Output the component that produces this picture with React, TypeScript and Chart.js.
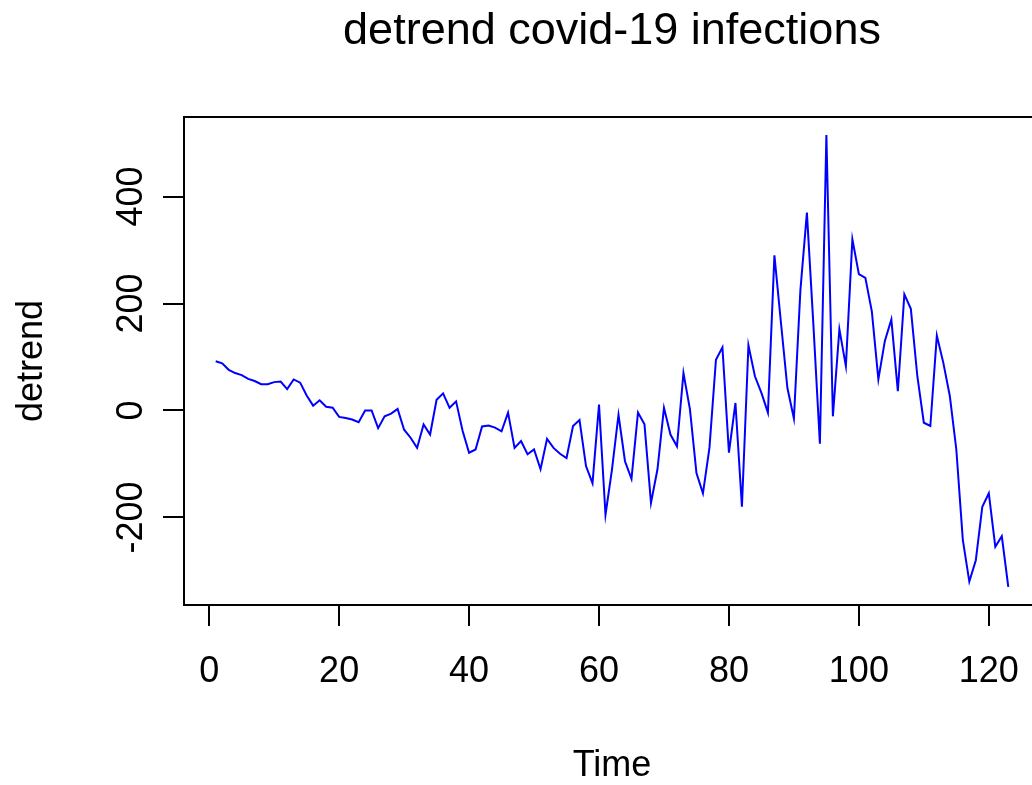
import React, { useEffect, useRef } from "react";
import { Chart, registerables } from "chart.js";

Chart.register(...registerables);

const chartTitle = "detrend covid-19 infections";
const xAxisTitle = "Time";
const yAxisTitle = "detrend";

const timeStart = 1;
const detrendValues = [
  92, 88, 76, 70, 66, 59, 55, 49, 49, 53,
  54, 40, 58, 52, 28, 9, 19, 7, 5, -12,
  -14, -17, -22, 0, 0, -33, -11, -6, 3, -36,
  -51, -70, -26, -45, 20, 32, 5, 17, -38, -79,
  -73, -30, -28, -32, -39, -4, -70, -57, -82, -73,
  -110, -53, -70, -81, -89, -29, -18, -104, -136, 11,
  -195, -110, -8, -95, -128, -4, -26, -173, -110, 5,
  -45, -67, 70, 2, -117, -155, -70, 95, 118, -79,
  14, -180, 122, 64, 33, -4, 290, 165, 42, -15,
  225, 370, 160, -62, 515, -11, 152, 83, 320, 255,
  248, 185, 58, 130, 170, 36, 217, 190, 64, -23,
  -29, 140, 89, 27, -73, -242, -320, -280, -180, -155,
  -255, -235, -330,
];

const xTickValues = [0, 20, 40, 60, 80, 100, 120];
const yTickValues = [-200, 0, 200, 400];

const FONT = "'Liberation Sans', Arial, sans-serif";

const boxPlugin = {
  id: "rbox",
  afterDatasetsDraw(chart: any) {
    const { ctx, chartArea: a } = chart;
    ctx.save();
    ctx.strokeStyle = "#000";
    ctx.lineWidth = 2;
    ctx.strokeRect(a.left, a.top, a.right - a.left, a.bottom - a.top);
    ctx.restore();
  },
};

export default function App() {
  const ref = useRef<HTMLCanvasElement>(null);

  useEffect(() => {
    document.body.style.margin = "0";
    document.body.style.overflow = "hidden";
    Chart.defaults.font.family = FONT;
    Chart.defaults.color = "#000";

    const points = detrendValues.map((v, i) => ({ x: timeStart + i, y: v }));
    const xs = points.map((p) => p.x);
    const xLo = Math.min(...xs);
    const xHi = Math.max(...xs);
    const yLo = Math.min(...detrendValues);
    const yHi = Math.max(...detrendValues);
    const xPad = 0.04 * (xHi - xLo);
    const yPad = 0.04 * (yHi - yLo);

    const gridOpts = {
      display: true,
      drawOnChartArea: false,
      drawTicks: true,
      tickLength: 21,
      color: "#000",
      lineWidth: 2,
    };

    const chart = new Chart(ref.current as HTMLCanvasElement, {
      type: "line",
      data: {
        datasets: [
          {
            data: points,
            borderColor: "#0000FF",
            borderWidth: 2,
            pointRadius: 0,
            tension: 0,
            fill: false,
          },
        ],
      },
      options: {
        responsive: false,
        animation: false,
        parsing: false as any,
        layout: { padding: { left: 0, top: 0, right: 20, bottom: 0 } },
        plugins: {
          legend: { display: false },
          tooltip: { enabled: false },
          title: {
            display: true,
            text: chartTitle,
            fullSize: false,
            color: "#000",
            font: { family: FONT, size: 45, weight: "normal", lineHeight: 1 },
            padding: { top: 9, bottom: 63 },
          },
        },
        scales: {
          x: {
            type: "linear",
            min: xLo - xPad,
            max: xHi + xPad,
            afterBuildTicks: (s: any) => {
              s.ticks = xTickValues.map((v) => ({ value: v }));
            },
            afterFit: (s: any) => {
              s.height = 180;
            },
            grid: gridOpts,
            border: { display: false },
            ticks: {
              color: "#000",
              font: { family: FONT, size: 36, lineHeight: 1.2 },
              padding: 24,
              maxRotation: 0,
              autoSkip: false,
              callback: (v: any) => String(v),
            },
            title: {
              display: true,
              text: xAxisTitle,
              color: "#000",
              font: { family: FONT, size: 36, lineHeight: 1.2 },
              padding: { top: 0, bottom: -3 },
            },
          },
          y: {
            type: "linear",
            min: yLo - yPad,
            max: yHi + yPad,
            afterBuildTicks: (s: any) => {
              s.ticks = yTickValues.map((v) => ({ value: v }));
            },
            afterFit: (s: any) => {
              s.width = 184;
            },
            grid: gridOpts,
            border: { display: false },
            ticks: {
              color: "#000",
              font: { family: FONT, size: 36, lineHeight: 1.2 },
              padding: -5,
              minRotation: 90,
              maxRotation: 90,
              crossAlign: "center",
              autoSkip: false,
              callback: (v: any) => String(v),
            },
            title: {
              display: true,
              text: yAxisTitle,
              color: "#000",
              font: { family: FONT, size: 36, lineHeight: 1.2 },
              padding: { top: 10, bottom: 0 },
            },
          },
        },
      } as any,
      plugins: [boxPlugin],
    });

    return () => chart.destroy();
  }, []);

  return (
    <div
      style={{
        width: 1032,
        height: 785,
        overflow: "hidden",
        position: "relative",
        background: "#fff",
      }}
    >
      <canvas
        ref={ref}
        width={1060}
        height={785}
        style={{ display: "block", width: 1060, height: 785 }}
      />
    </div>
  );
}
